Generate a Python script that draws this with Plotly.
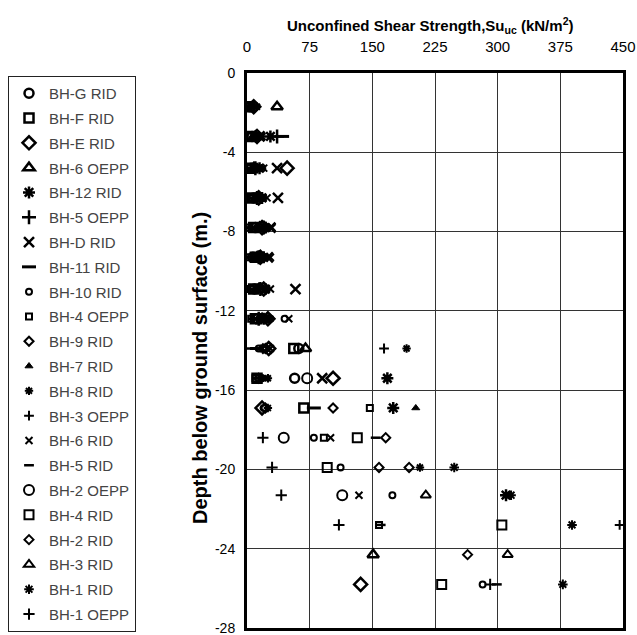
import plotly.graph_objects as go

N = None
# depth levels (m), negative downward
DEPTH = [-1.7, -3.2, -4.8, -6.3, -7.8, -9.3, -10.9, -12.4, -13.9, -15.4,
         -16.9, -18.4, -19.9, -21.3, -22.8, -24.3, -25.8]

# Unconfined shear strength (kN/m2) per borehole at each depth level
bh_g_rid  = [4, 6, 5, 8, 10, 7, 9, 12, 62, 57, N, N, N, N, N, N, N]
bh_f_rid  = [3, 5, 4, 6, 8, 10, 8, 10, 56, 12, 68, N, N, N, N, N, N]
bh_e_rid  = [8, 12, 48, 14, 18, 16, 20, 25, 26, 103, 18, N, N, N, N, N, 136]
bh_6_oepp = [36, 10, 8, 12, 15, 12, 14, 18, 70, N, N, N, N, N, N, 151, N]
bh_12_rid = [N, 28, 15, 18, 22, 20, 22, 20, N, 168, 175, N, N, 310, N, N, N]
bh_5_oepp = [N, 36, 10, 12, 20, 14, 16, 14, N, N, N, N, N, N, N, N, N]
bh_d_rid  = [N, 15, 36, 37, 28, 25, 58, 22, 24, 90, N, N, N, N, N, N, N]
bh_11_rid = [6, 42, 6, 8, 6, 5, 6, 10, 12, 15, 80, N, N, N, N, N, N]
bh_10_rid = [N, 8, 10, 5, 12, 9, 12, 45, 14, 18, 20, 80, 112, 174, N, N, 282]
bh_4_oepp = [2, 4, 3, 4, 3, 3, 4, 5, 20, 10, 147, 92, N, N, 158, N, N]
bh_9_rid  = [10, 14, 12, 16, 22, 18, 18, 15, 22, 14, 103, N, 158, N, N, N, N]
bh_7_rid  = [5, 7, 6, 10, 14, 13, 10, 18, 16, 20, 202, N, N, N, N, N, N]
bh_8_rid  = [12, 16, 18, 20, 25, 22, 24, 28, 191, 25, 25, N, 207, N, N, N, N]
bh_3_oepp = [N, N, N, N, N, N, N, N, 164, N, N, N, N, N, 446, N, N]
bh_6_rid  = [N, 18, 20, 24, 30, 28, 28, 50, 28, 22, N, 100, N, 134, N, N, N]
bh_5_rid  = [N, N, N, N, N, N, N, N, 4, N, N, 154, N, N, 160, N, 299]
bh_2_oepp = [N, N, N, N, N, N, N, N, N, 72, N, 44, N, 114, N, N, N]
bh_4_rid  = [N, N, N, N, N, N, N, N, N, N, N, 132, 96, N, 305, N, 233]
bh_2_rid  = [N, N, N, N, N, N, N, N, N, N, 22, 166, 194, N, N, 264, N]
bh_3_rid  = [N, N, N, N, N, N, N, N, N, N, N, N, N, 214, N, 312, N]
bh_1_rid  = [N, N, N, N, N, N, N, N, N, N, N, N, 248, 316, 389, N, 378]
bh_1_oepp = [N, N, N, N, N, N, N, N, N, N, N, 19, 30, 41, 110, N, 291]

SERIES_NAMES = ["BH-G RID", "BH-F RID", "BH-E RID", "BH-6 OEPP", "BH-12 RID",
                "BH-5 OEPP", "BH-D RID", "BH-11 RID", "BH-10 RID", "BH-4 OEPP",
                "BH-9 RID", "BH-7 RID", "BH-8 RID", "BH-3 OEPP", "BH-6 RID",
                "BH-5 RID", "BH-2 OEPP", "BH-4 RID", "BH-2 RID", "BH-3 RID",
                "BH-1 RID", "BH-1 OEPP"]
SERIES_VALUES = [bh_g_rid, bh_f_rid, bh_e_rid, bh_6_oepp, bh_12_rid, bh_5_oepp,
                 bh_d_rid, bh_11_rid, bh_10_rid, bh_4_oepp, bh_9_rid, bh_7_rid,
                 bh_8_rid, bh_3_oepp, bh_6_rid, bh_5_rid, bh_2_oepp, bh_4_rid,
                 bh_2_rid, bh_3_rid, bh_1_rid, bh_1_oepp]

X_TICKS = [0, 75, 150, 225, 300, 375, 450]
Y_TICKS = [0, -4, -8, -12, -16, -20, -24, -28]
Y_TICK_TEXT = ["0", "-4", "-8", "-12", "-16", "-20", "-24", "-28"]

# marker styles: (symbol, size, line width)
STYLES = [
    ("circle-open", 9, 2.5), ("square-open", 9, 2.5), ("diamond-open", 10, 2.5),
    ("triangle-up-open", 10, 2.5), ("asterisk-open", 10, 2.5), ("cross-thin-open", 10, 2.5),
    ("x-thin-open", 10, 2.5), ("line-ew-open", 10, 3), ("circle-open", 6, 2),
    ("square-open", 6, 2), ("diamond-open", 7, 2), ("triangle-up", 7, 1),
    ("asterisk-open", 7, 2), ("cross-thin-open", 7, 2), ("x-thin-open", 7, 2),
    ("line-ew-open", 7, 2.5), ("circle-open", 10, 2), ("square-open", 9, 2),
    ("diamond-open", 7, 2), ("triangle-up-open", 9, 2), ("asterisk-open", 8, 2),
    ("cross-thin-open", 8, 2),
]

fig = go.Figure()
for i, (name, vals) in enumerate(zip(SERIES_NAMES, SERIES_VALUES)):
    xs = [v for v in vals if v is not None]
    ys = [d for v, d in zip(vals, DEPTH) if v is not None]
    sym, size, lw = STYLES[i]
    fig.add_trace(go.Scatter(
        x=xs, y=ys, mode="markers", name=name, legendgroup=f"g{i}",
        marker=dict(symbol=sym, size=size, color="black",
                    line=dict(color="black", width=lw)),
    ))

W, H = 637, 635
L, R, T, B = 247, 14, 73, 7
pw, ph = W - L - R, H - T - B

fig.update_layout(
    width=W, height=H,
    margin=dict(l=L, r=R, t=T, b=B, autoexpand=False),
    paper_bgcolor="white", plot_bgcolor="white",
    font=dict(family="Liberation Sans, Arial, sans-serif", size=14, color="black"),
    showlegend=True,
    legend=dict(
        x=(8 - L) / pw, y=(H - B - 76) / ph, xanchor="left", yanchor="top",
        bordercolor="#222", borderwidth=1, bgcolor="white",
        font=dict(size=15, color="#444", family="Liberation Sans, Arial, sans-serif"),
        tracegroupgap=2.3, itemsizing="trace", maxheight=800,
    ),
    xaxis=dict(
        side="top", range=[0, 450], tickvals=X_TICKS,
        ticktext=[str(v) for v in X_TICKS],
        showgrid=True, gridcolor="#333", gridwidth=1,
        showline=True, linecolor="black", linewidth=3, mirror=True,
        ticks="outside", ticklen=12, tickcolor="rgba(0,0,0,0)",
        zeroline=False, tickfont=dict(size=15),
    ),
    yaxis=dict(
        range=[-28, 0], tickvals=Y_TICKS, ticktext=Y_TICK_TEXT,
        showgrid=True, gridcolor="#333", gridwidth=1,
        showline=True, linecolor="black", linewidth=3, mirror=True,
        ticks="outside", ticklen=6, tickcolor="rgba(0,0,0,0)",
        zeroline=False, tickfont=dict(size=14), ticklabeloverflow="allow",
    ),
    annotations=[
        dict(text="<b>Unconfined Shear Strength,Su<sub>uc</sub> (kN/m<sup>2</sup>)</b>",
             xref="paper", yref="paper", x=(430 - L) / pw, y=1 + (T - 26) / ph,
             xanchor="center", yanchor="middle", showarrow=False,
             font=dict(size=15, color="black")),
        dict(text="<b>Depth below ground surface (m.)</b>",
             xref="paper", yref="paper", x=(200 - L) / pw, y=(H - B - 368) / ph,
             xanchor="center", yanchor="middle", showarrow=False, textangle=-90,
             font=dict(size=20, color="black")),
    ],
)

fig.write_html("out.html")
